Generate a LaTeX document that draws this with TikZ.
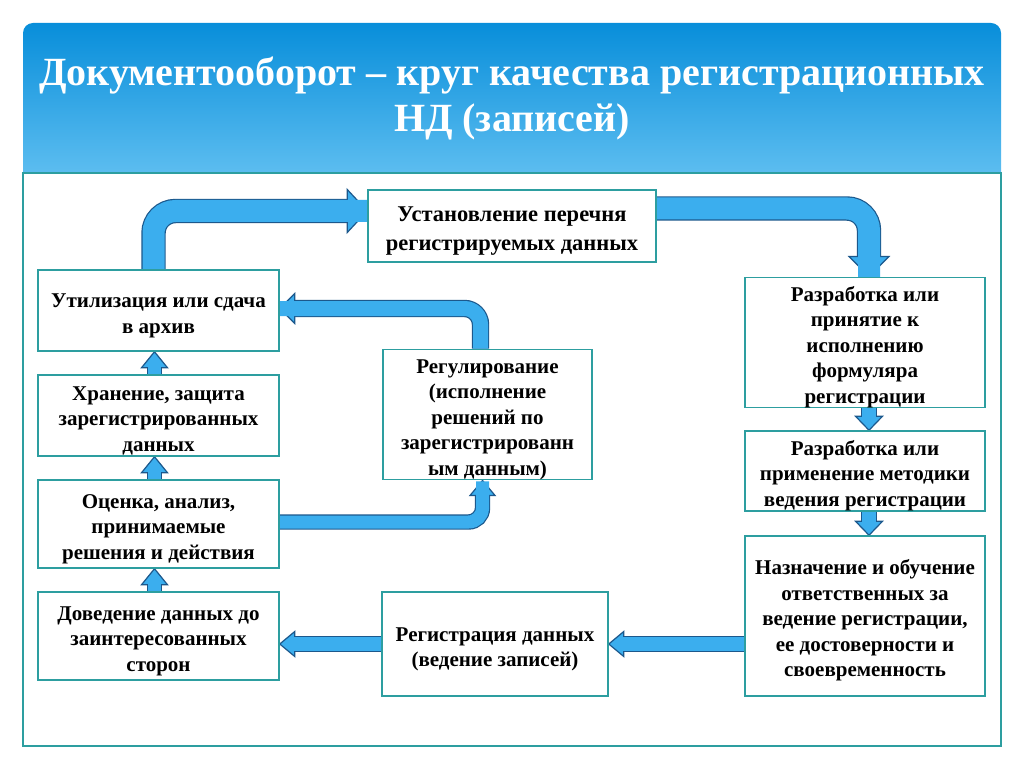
\documentclass[tikz,border=0pt]{standalone}
\usepackage{fontspec}
\setmainfont{Liberation Serif}
\usetikzlibrary{calc,backgrounds}

\definecolor{boxline}{RGB}{45,158,160}
\definecolor{arrfill}{RGB}{59,174,238}
\definecolor{arrline}{RGB}{28,88,140}
\definecolor{bantop}{RGB}{8,142,218}
\definecolor{banbot}{RGB}{92,189,240}

% taller first line, so the text sits a bit lower in its box
\newcommand{\tstrut}{\rule{0pt}{24pt}}

% shaft width, head half width, head length, direction, corner radius, shaft path
\newcommand{\fatarrow}[6]{%
  \draw[arrline, line width={#1pt+2.4pt}, rounded corners=#5pt] #6 coordinate (hb);
  \filldraw[fill=arrfill, draw=arrline, line width=1.2pt, shift={(hb)}, rotate=#4]
    (0pt,-#2pt) -- (#3pt,0pt) -- (0pt,#2pt) -- cycle;
  \draw[arrfill, line width=#1pt, rounded corners=#5pt] #6 -- ++(#4:2pt);
}

\begin{document}
\begin{tikzpicture}[
    x=1pt, y=-1pt,
    box/.style={draw=boxline, line width=1.5pt, fill=white, align=center,
      inner sep=0pt, font=\fontsize{21}{25.5}\selectfont\bfseries},
    title/.style={text=white, align=center,
      font=\fontsize{40}{46}\selectfont\bfseries}
  ]
  \useasboundingbox (0,0) rectangle (1024,767);

  % blocks
  \node[box, minimum width=288pt, minimum height=72pt,
    font=\fontsize{22.5}{29}\selectfont\bfseries] (ustanov) at (512,226)
    {\tstrut Установление перечня\\регистрируемых данных};
  \node[box, minimum width=240pt, minimum height=129pt] (razr1) at (865,342.5)
    {\tstrut Разработка или\\принятие к\\исполнению\\формуляра\\регистрации};
  \node[box, minimum width=240pt, minimum height=80pt] (razr2) at (865,471)
    {\tstrut Разработка или\\применение методики\\ведения регистрации};
  \node[box, minimum width=240pt, minimum height=160pt] (naz) at (865,616)
    {\tstrut Назначение и обучение\\ответственных за\\ведение регистрации,\\ее достоверности и\\своевременность};
  \node[box, minimum width=226pt, minimum height=104pt] (reg) at (495,644)
    {\tstrut Регистрация данных\\(ведение записей)};
  \node[box, minimum width=241pt, minimum height=88pt] (dov) at (158.5,636)
    {\tstrut Доведение данных до\\заинтересованных\\сторон};
  \node[box, minimum width=241pt, minimum height=88pt] (ocenka) at (158.5,524)
    {\tstrut Оценка, анализ,\\принимаемые\\решения и действия};
  \node[box, minimum width=241pt, minimum height=81pt] (hran) at (158.5,415.5)
    {\tstrut Хранение, защита\\зарегистрированных\\данных};
  \node[box, minimum width=241pt, minimum height=81pt] (util) at (158.5,310.5)
    {\tstrut Утилизация или сдача\\в архив};
  \node[box, minimum width=209pt, minimum height=129pt] (regul) at (487.5,414.5)
    {\tstrut Регулирование\\(исполнение\\решений по\\зарегистрированн\\ым данным)};

  \node[title] (head) at (512,98)
    {Документооборот – круг качества регистрационных\\НД (записей)};

  \begin{scope}[on background layer]
    \fill[white] (0,0) rectangle (1024,767);
    % banner and frame
    \shade[top color=bantop, bottom color=banbot]
      (23,173) [rounded corners=10pt] -- (23,23) -- (1001,23) [sharp corners] -- (1001,173) -- cycle;
    \draw[boxline, line width=1.5pt, fill=white] (23,173) rectangle (1001,746);

    % big arrows
    \fatarrow{22}{21.5}{20}{0}{22}{([xshift=-5pt]util.north) |- ([xshift=-20pt,yshift=15pt]ustanov.west)}
    \fatarrow{22}{20}{20}{-90}{22}{([yshift=17.5pt]ustanov.east) -| ([xshift=4pt,yshift=20pt]razr1.north)}
    \fatarrow{15}{15}{15}{180}{16}{([xshift=-7pt]regul.north) |- ([xshift=15pt,yshift=2pt]util.east)}
    \fatarrow{13}{12.5}{15}{90}{14}{([yshift=2pt]ocenka.east) -| ([xshift=-5pt,yshift=-15pt]regul.south)}

    % left column
    \fatarrow{13}{13}{16}{90}{1}{([xshift=-4pt]dov.north) -- ([xshift=-4pt,yshift=-16pt]ocenka.south)}
    \fatarrow{13}{13}{16}{90}{1}{([xshift=-4pt]ocenka.north) -- ([xshift=-4pt,yshift=-16pt]hran.south)}
    \fatarrow{13}{13}{16}{90}{1}{([xshift=-4pt]hran.north) -- ([xshift=-4pt,yshift=-16pt]util.south)}

    % right column
    \fatarrow{14}{13.5}{14}{-90}{1}{([xshift=4pt]razr1.south) -- ([xshift=4pt,yshift=14pt]razr2.north)}
    \fatarrow{14}{13.5}{14}{-90}{1}{([xshift=4pt]razr2.south) -- ([xshift=4pt,yshift=14pt]naz.north)}

    % bottom row
    \fatarrow{14}{12.5}{15}{180}{1}{(naz.west |- reg.east) -- ([xshift=15pt]reg.east)}
    \fatarrow{14}{12.5}{15}{180}{1}{(reg.west) -- ($(dov.east |- reg.west)+(15,0)$)}
  \end{scope}
\end{tikzpicture}
\end{document}
